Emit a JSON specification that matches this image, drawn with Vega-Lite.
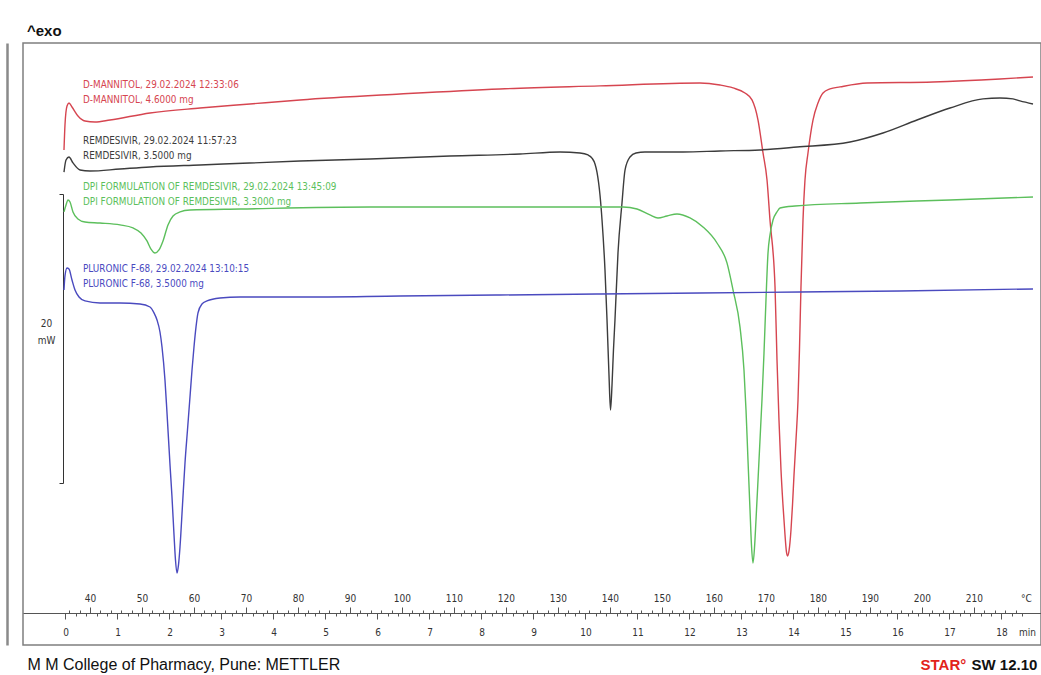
{
  "$schema": "https://vega.github.io/schema/vega-lite/v6.json",
  "width": 1018,
  "height": 602,
  "autosize": {"type": "none"},
  "padding": {"left": 23, "top": 43, "right": 0, "bottom": 30},
  "background": "white",
  "config": {"view": {"stroke": "#7f7f7f", "strokeWidth": 1.5}, "axis": {"grid": false}},
  "title": {"text": "^exo", "anchor": "start", "frame": "group", "orient": "top", "offset": 12, "dx": 4, "dy": 15, "baseline": "middle", "font": "Liberation Sans, Arial, sans-serif", "fontSize": 15, "fontWeight": "bold", "color": "#111111"},
  "datasets": {
    "curves": [
      {"sample": "D-MANNITOL", "T": 35.01, "mW": 34.26},
      {"sample": "D-MANNITOL", "T": 35.20, "mW": 35.99},
      {"sample": "D-MANNITOL", "T": 35.59, "mW": 37.30},
      {"sample": "D-MANNITOL", "T": 35.97, "mW": 37.51},
      {"sample": "D-MANNITOL", "T": 36.55, "mW": 37.23},
      {"sample": "D-MANNITOL", "T": 37.70, "mW": 36.61},
      {"sample": "D-MANNITOL", "T": 39.05, "mW": 36.26},
      {"sample": "D-MANNITOL", "T": 40.97, "mW": 36.19},
      {"sample": "D-MANNITOL", "T": 43.86, "mW": 36.33},
      {"sample": "D-MANNITOL", "T": 51.55, "mW": 36.82},
      {"sample": "D-MANNITOL", "T": 61.17, "mW": 37.16},
      {"sample": "D-MANNITOL", "T": 70.78, "mW": 37.44},
      {"sample": "D-MANNITOL", "T": 80.40, "mW": 37.72},
      {"sample": "D-MANNITOL", "T": 99.63, "mW": 38.13},
      {"sample": "D-MANNITOL", "T": 118.86, "mW": 38.48},
      {"sample": "D-MANNITOL", "T": 138.09, "mW": 38.69},
      {"sample": "D-MANNITOL", "T": 157.32, "mW": 38.89},
      {"sample": "D-MANNITOL", "T": 161.17, "mW": 38.75},
      {"sample": "D-MANNITOL", "T": 163.67, "mW": 38.55},
      {"sample": "D-MANNITOL", "T": 165.97, "mW": 38.20},
      {"sample": "D-MANNITOL", "T": 167.32, "mW": 37.72},
      {"sample": "D-MANNITOL", "T": 168.48, "mW": 36.33},
      {"sample": "D-MANNITOL", "T": 169.44, "mW": 34.05},
      {"sample": "D-MANNITOL", "T": 170.21, "mW": 32.18},
      {"sample": "D-MANNITOL", "T": 170.78, "mW": 29.41},
      {"sample": "D-MANNITOL", "T": 171.75, "mW": 24.78},
      {"sample": "D-MANNITOL", "T": 172.13, "mW": 19.72},
      {"sample": "D-MANNITOL", "T": 172.51, "mW": 15.57},
      {"sample": "D-MANNITOL", "T": 172.90, "mW": 12.11},
      {"sample": "D-MANNITOL", "T": 173.28, "mW": 9.69},
      {"sample": "D-MANNITOL", "T": 173.67, "mW": 7.61},
      {"sample": "D-MANNITOL", "T": 173.95, "mW": 6.44},
      {"sample": "D-MANNITOL", "T": 174.15, "mW": 6.16},
      {"sample": "D-MANNITOL", "T": 174.44, "mW": 6.51},
      {"sample": "D-MANNITOL", "T": 174.82, "mW": 7.96},
      {"sample": "D-MANNITOL", "T": 175.11, "mW": 9.69},
      {"sample": "D-MANNITOL", "T": 175.40, "mW": 11.76},
      {"sample": "D-MANNITOL", "T": 175.78, "mW": 14.19},
      {"sample": "D-MANNITOL", "T": 176.17, "mW": 16.96},
      {"sample": "D-MANNITOL", "T": 176.45, "mW": 20.42},
      {"sample": "D-MANNITOL", "T": 176.74, "mW": 24.78},
      {"sample": "D-MANNITOL", "T": 177.13, "mW": 29.41},
      {"sample": "D-MANNITOL", "T": 177.51, "mW": 32.18},
      {"sample": "D-MANNITOL", "T": 178.09, "mW": 34.05},
      {"sample": "D-MANNITOL", "T": 179.05, "mW": 36.33},
      {"sample": "D-MANNITOL", "T": 180.01, "mW": 37.51},
      {"sample": "D-MANNITOL", "T": 180.98, "mW": 38.20},
      {"sample": "D-MANNITOL", "T": 182.32, "mW": 38.48},
      {"sample": "D-MANNITOL", "T": 184.25, "mW": 38.62},
      {"sample": "D-MANNITOL", "T": 189.44, "mW": 38.89},
      {"sample": "D-MANNITOL", "T": 202.13, "mW": 38.96},
      {"sample": "D-MANNITOL", "T": 215.01, "mW": 39.17},
      {"sample": "D-MANNITOL", "T": 221.36, "mW": 39.31},

      {"sample": "REMDESIVIR", "T": 35.01, "mW": 32.73},
      {"sample": "REMDESIVIR", "T": 35.40, "mW": 33.56},
      {"sample": "REMDESIVIR", "T": 35.97, "mW": 33.77},
      {"sample": "REMDESIVIR", "T": 36.74, "mW": 33.36},
      {"sample": "REMDESIVIR", "T": 38.09, "mW": 32.87},
      {"sample": "REMDESIVIR", "T": 40.01, "mW": 32.80},
      {"sample": "REMDESIVIR", "T": 45.78, "mW": 32.94},
      {"sample": "REMDESIVIR", "T": 51.55, "mW": 33.08},
      {"sample": "REMDESIVIR", "T": 61.17, "mW": 33.22},
      {"sample": "REMDESIVIR", "T": 80.40, "mW": 33.49},
      {"sample": "REMDESIVIR", "T": 93.86, "mW": 33.63},
      {"sample": "REMDESIVIR", "T": 109.24, "mW": 33.84},
      {"sample": "REMDESIVIR", "T": 122.71, "mW": 33.98},
      {"sample": "REMDESIVIR", "T": 130.40, "mW": 34.12},
      {"sample": "REMDESIVIR", "T": 134.24, "mW": 34.05},
      {"sample": "REMDESIVIR", "T": 135.78, "mW": 33.91},
      {"sample": "REMDESIVIR", "T": 136.55, "mW": 33.70},
      {"sample": "REMDESIVIR", "T": 137.13, "mW": 33.29},
      {"sample": "REMDESIVIR", "T": 137.51, "mW": 32.73},
      {"sample": "REMDESIVIR", "T": 138.09, "mW": 31.14},
      {"sample": "REMDESIVIR", "T": 138.48, "mW": 29.41},
      {"sample": "REMDESIVIR", "T": 139.05, "mW": 25.95},
      {"sample": "REMDESIVIR", "T": 139.44, "mW": 22.49},
      {"sample": "REMDESIVIR", "T": 139.82, "mW": 18.69},
      {"sample": "REMDESIVIR", "T": 140.11, "mW": 16.26},
      {"sample": "REMDESIVIR", "T": 140.40, "mW": 17.99},
      {"sample": "REMDESIVIR", "T": 140.68, "mW": 20.42},
      {"sample": "REMDESIVIR", "T": 140.97, "mW": 22.49},
      {"sample": "REMDESIVIR", "T": 141.55, "mW": 27.13},
      {"sample": "REMDESIVIR", "T": 142.32, "mW": 30.59},
      {"sample": "REMDESIVIR", "T": 142.90, "mW": 32.87},
      {"sample": "REMDESIVIR", "T": 143.86, "mW": 33.77},
      {"sample": "REMDESIVIR", "T": 145.01, "mW": 34.05},
      {"sample": "REMDESIVIR", "T": 146.74, "mW": 34.12},
      {"sample": "REMDESIVIR", "T": 154.05, "mW": 34.12},
      {"sample": "REMDESIVIR", "T": 161.17, "mW": 34.19},
      {"sample": "REMDESIVIR", "T": 168.86, "mW": 34.26},
      {"sample": "REMDESIVIR", "T": 175.98, "mW": 34.46},
      {"sample": "REMDESIVIR", "T": 186.17, "mW": 34.81},
      {"sample": "REMDESIVIR", "T": 192.51, "mW": 35.43},
      {"sample": "REMDESIVIR", "T": 199.05, "mW": 36.33},
      {"sample": "REMDESIVIR", "T": 205.40, "mW": 37.16},
      {"sample": "REMDESIVIR", "T": 211.75, "mW": 37.79},
      {"sample": "REMDESIVIR", "T": 215.01, "mW": 37.85},
      {"sample": "REMDESIVIR", "T": 217.51, "mW": 37.79},
      {"sample": "REMDESIVIR", "T": 218.86, "mW": 37.65},
      {"sample": "REMDESIVIR", "T": 221.36, "mW": 37.44},

      {"sample": "DPI FORMULATION OF REMDESIVIR", "T": 35.01, "mW": 29.97},
      {"sample": "DPI FORMULATION OF REMDESIVIR", "T": 35.40, "mW": 30.45},
      {"sample": "DPI FORMULATION OF REMDESIVIR", "T": 35.78, "mW": 30.80},
      {"sample": "DPI FORMULATION OF REMDESIVIR", "T": 36.17, "mW": 30.66},
      {"sample": "DPI FORMULATION OF REMDESIVIR", "T": 36.74, "mW": 29.97},
      {"sample": "DPI FORMULATION OF REMDESIVIR", "T": 37.70, "mW": 29.48},
      {"sample": "DPI FORMULATION OF REMDESIVIR", "T": 39.05, "mW": 29.27},
      {"sample": "DPI FORMULATION OF REMDESIVIR", "T": 41.93, "mW": 29.20},
      {"sample": "DPI FORMULATION OF REMDESIVIR", "T": 45.78, "mW": 29.07},
      {"sample": "DPI FORMULATION OF REMDESIVIR", "T": 48.28, "mW": 28.86},
      {"sample": "DPI FORMULATION OF REMDESIVIR", "T": 49.82, "mW": 28.51},
      {"sample": "DPI FORMULATION OF REMDESIVIR", "T": 50.97, "mW": 27.96},
      {"sample": "DPI FORMULATION OF REMDESIVIR", "T": 51.74, "mW": 27.40},
      {"sample": "DPI FORMULATION OF REMDESIVIR", "T": 52.51, "mW": 27.13},
      {"sample": "DPI FORMULATION OF REMDESIVIR", "T": 53.28, "mW": 27.34},
      {"sample": "DPI FORMULATION OF REMDESIVIR", "T": 54.05, "mW": 27.96},
      {"sample": "DPI FORMULATION OF REMDESIVIR", "T": 55.01, "mW": 29.07},
      {"sample": "DPI FORMULATION OF REMDESIVIR", "T": 55.98, "mW": 29.69},
      {"sample": "DPI FORMULATION OF REMDESIVIR", "T": 57.32, "mW": 29.97},
      {"sample": "DPI FORMULATION OF REMDESIVIR", "T": 59.24, "mW": 30.10},
      {"sample": "DPI FORMULATION OF REMDESIVIR", "T": 68.86, "mW": 30.17},
      {"sample": "DPI FORMULATION OF REMDESIVIR", "T": 93.86, "mW": 30.31},
      {"sample": "DPI FORMULATION OF REMDESIVIR", "T": 118.86, "mW": 30.31},
      {"sample": "DPI FORMULATION OF REMDESIVIR", "T": 130.40, "mW": 30.31},
      {"sample": "DPI FORMULATION OF REMDESIVIR", "T": 142.51, "mW": 30.31},
      {"sample": "DPI FORMULATION OF REMDESIVIR", "T": 145.21, "mW": 30.17},
      {"sample": "DPI FORMULATION OF REMDESIVIR", "T": 147.70, "mW": 29.76},
      {"sample": "DPI FORMULATION OF REMDESIVIR", "T": 149.24, "mW": 29.55},
      {"sample": "DPI FORMULATION OF REMDESIVIR", "T": 150.97, "mW": 29.69},
      {"sample": "DPI FORMULATION OF REMDESIVIR", "T": 152.90, "mW": 29.83},
      {"sample": "DPI FORMULATION OF REMDESIVIR", "T": 155.40, "mW": 29.55},
      {"sample": "DPI FORMULATION OF REMDESIVIR", "T": 157.90, "mW": 28.93},
      {"sample": "DPI FORMULATION OF REMDESIVIR", "T": 160.59, "mW": 27.82},
      {"sample": "DPI FORMULATION OF REMDESIVIR", "T": 162.51, "mW": 26.44},
      {"sample": "DPI FORMULATION OF REMDESIVIR", "T": 163.67, "mW": 24.57},
      {"sample": "DPI FORMULATION OF REMDESIVIR", "T": 165.01, "mW": 22.01},
      {"sample": "DPI FORMULATION OF REMDESIVIR", "T": 165.78, "mW": 19.03},
      {"sample": "DPI FORMULATION OF REMDESIVIR", "T": 166.17, "mW": 16.26},
      {"sample": "DPI FORMULATION OF REMDESIVIR", "T": 166.55, "mW": 12.80},
      {"sample": "DPI FORMULATION OF REMDESIVIR", "T": 166.94, "mW": 9.34},
      {"sample": "DPI FORMULATION OF REMDESIVIR", "T": 167.22, "mW": 6.92},
      {"sample": "DPI FORMULATION OF REMDESIVIR", "T": 167.51, "mW": 5.67},
      {"sample": "DPI FORMULATION OF REMDESIVIR", "T": 167.80, "mW": 6.71},
      {"sample": "DPI FORMULATION OF REMDESIVIR", "T": 168.09, "mW": 8.65},
      {"sample": "DPI FORMULATION OF REMDESIVIR", "T": 168.48, "mW": 11.42},
      {"sample": "DPI FORMULATION OF REMDESIVIR", "T": 168.86, "mW": 14.19},
      {"sample": "DPI FORMULATION OF REMDESIVIR", "T": 169.24, "mW": 16.96},
      {"sample": "DPI FORMULATION OF REMDESIVIR", "T": 169.63, "mW": 20.21},
      {"sample": "DPI FORMULATION OF REMDESIVIR", "T": 170.01, "mW": 23.88},
      {"sample": "DPI FORMULATION OF REMDESIVIR", "T": 170.40, "mW": 27.13},
      {"sample": "DPI FORMULATION OF REMDESIVIR", "T": 170.78, "mW": 28.37},
      {"sample": "DPI FORMULATION OF REMDESIVIR", "T": 171.36, "mW": 29.41},
      {"sample": "DPI FORMULATION OF REMDESIVIR", "T": 172.13, "mW": 29.97},
      {"sample": "DPI FORMULATION OF REMDESIVIR", "T": 172.71, "mW": 30.24},
      {"sample": "DPI FORMULATION OF REMDESIVIR", "T": 175.59, "mW": 30.38},
      {"sample": "DPI FORMULATION OF REMDESIVIR", "T": 188.09, "mW": 30.59},
      {"sample": "DPI FORMULATION OF REMDESIVIR", "T": 205.40, "mW": 30.80},
      {"sample": "DPI FORMULATION OF REMDESIVIR", "T": 221.36, "mW": 31.00},

      {"sample": "PLURONIC F-68", "T": 35.01, "mW": 24.57},
      {"sample": "PLURONIC F-68", "T": 35.20, "mW": 25.54},
      {"sample": "PLURONIC F-68", "T": 35.59, "mW": 26.09},
      {"sample": "PLURONIC F-68", "T": 35.97, "mW": 26.02},
      {"sample": "PLURONIC F-68", "T": 36.55, "mW": 25.26},
      {"sample": "PLURONIC F-68", "T": 37.13, "mW": 24.57},
      {"sample": "PLURONIC F-68", "T": 37.90, "mW": 24.08},
      {"sample": "PLURONIC F-68", "T": 39.05, "mW": 23.81},
      {"sample": "PLURONIC F-68", "T": 41.93, "mW": 23.67},
      {"sample": "PLURONIC F-68", "T": 45.78, "mW": 23.67},
      {"sample": "PLURONIC F-68", "T": 49.63, "mW": 23.60},
      {"sample": "PLURONIC F-68", "T": 51.55, "mW": 23.39},
      {"sample": "PLURONIC F-68", "T": 52.32, "mW": 22.98},
      {"sample": "PLURONIC F-68", "T": 52.90, "mW": 22.49},
      {"sample": "PLURONIC F-68", "T": 53.47, "mW": 21.66},
      {"sample": "PLURONIC F-68", "T": 53.86, "mW": 20.62},
      {"sample": "PLURONIC F-68", "T": 54.43, "mW": 18.34},
      {"sample": "PLURONIC F-68", "T": 54.82, "mW": 16.06},
      {"sample": "PLURONIC F-68", "T": 55.40, "mW": 12.46},
      {"sample": "PLURONIC F-68", "T": 55.78, "mW": 10.24},
      {"sample": "PLURONIC F-68", "T": 56.17, "mW": 7.61},
      {"sample": "PLURONIC F-68", "T": 56.45, "mW": 5.88},
      {"sample": "PLURONIC F-68", "T": 56.74, "mW": 4.98},
      {"sample": "PLURONIC F-68", "T": 57.03, "mW": 5.54},
      {"sample": "PLURONIC F-68", "T": 57.32, "mW": 6.78},
      {"sample": "PLURONIC F-68", "T": 57.80, "mW": 9.69},
      {"sample": "PLURONIC F-68", "T": 58.28, "mW": 12.60},
      {"sample": "PLURONIC F-68", "T": 58.76, "mW": 14.88},
      {"sample": "PLURONIC F-68", "T": 59.24, "mW": 17.16},
      {"sample": "PLURONIC F-68", "T": 59.63, "mW": 19.03},
      {"sample": "PLURONIC F-68", "T": 60.01, "mW": 20.62},
      {"sample": "PLURONIC F-68", "T": 60.40, "mW": 22.01},
      {"sample": "PLURONIC F-68", "T": 60.78, "mW": 22.98},
      {"sample": "PLURONIC F-68", "T": 61.55, "mW": 23.60},
      {"sample": "PLURONIC F-68", "T": 62.51, "mW": 23.81},
      {"sample": "PLURONIC F-68", "T": 65.01, "mW": 24.01},
      {"sample": "PLURONIC F-68", "T": 68.86, "mW": 24.08},
      {"sample": "PLURONIC F-68", "T": 80.40, "mW": 24.08},
      {"sample": "PLURONIC F-68", "T": 99.63, "mW": 24.15},
      {"sample": "PLURONIC F-68", "T": 118.86, "mW": 24.22},
      {"sample": "PLURONIC F-68", "T": 138.09, "mW": 24.29},
      {"sample": "PLURONIC F-68", "T": 157.32, "mW": 24.36},
      {"sample": "PLURONIC F-68", "T": 176.55, "mW": 24.43},
      {"sample": "PLURONIC F-68", "T": 195.78, "mW": 24.50},
      {"sample": "PLURONIC F-68", "T": 221.36, "mW": 24.64}
    ],
    "labels": [
      {"sample": "D-MANNITOL", "lines": ["D-MANNITOL, 29.02.2024 12:33:06", "D-MANNITOL, 4.6000 mg"], "T": 38.67, "mW": 38.75},
      {"sample": "REMDESIVIR", "lines": ["REMDESIVIR, 29.02.2024 11:57:23", "REMDESIVIR, 3.5000 mg"], "T": 38.67, "mW": 34.88},
      {"sample": "DPI FORMULATION OF REMDESIVIR", "lines": ["DPI FORMULATION OF REMDESIVIR, 29.02.2024 13:45:09", "DPI FORMULATION OF REMDESIVIR, 3.3000 mg"], "T": 38.67, "mW": 31.70},
      {"sample": "PLURONIC F-68", "lines": ["PLURONIC F-68, 29.02.2024 13:10:15", "PLURONIC F-68, 3.5000 mg"], "T": 38.67, "mW": 26.02}
    ],
    "scalebar": [{"mW": 0}, {"mW": 20}]
  },
  "layer": [
    {
      "data": {"name": "curves"},
      "mark": {"type": "line", "strokeWidth": 1.4, "interpolate": "monotone"},
      "encoding": {
        "x": {
          "field": "T", "type": "quantitative",
          "scale": {"domain": [27.127, 222.9], "nice": false, "zero": false},
          "axis": {
            "orient": "top", "offset": -570, "zindex": 0,
            "values": [36,38,40,42,44,46,48,50,52,54,56,58,60,62,64,66,68,70,72,74,76,78,80,82,84,86,88,90,92,94,96,98,100,102,104,106,108,110,112,114,116,118,120,122,124,126,128,130,132,134,136,138,140,142,144,146,148,150,152,154,156,158,160,162,164,166,168,170,172,174,176,178,180,182,184,186,188,190,192,194,196,198,200,202,204,206,208,210,212,214,216,218,220],
            "labelExpr": "datum.value == 220 ? '°C' : (datum.value % 10 == 0 ? datum.label : '')",
            "labelFont": "DejaVu Sans Condensed, DejaVu Sans, sans-serif",
            "labelFontSize": 10, "labelColor": "#333333", "labelPadding": 4,
            "labelFlush": false, "labelOverlap": false, "labelAngle": 0,
            "tickSize": {"condition": {"test": "datum.value % 10 == 0", "value": 6}, "value": 3},
            "tickOpacity": {"condition": {"test": "datum.value == 220", "value": 0}, "value": 1},
            "tickColor": "#555555", "tickWidth": 1,
            "domain": true, "domainColor": "#555555", "domainWidth": 1, "grid": false,
            "title": "SW 12.10", "titleX": 948, "titleY": 51, "titleAngle": 0,
            "titleAlign": "left", "titleBaseline": "middle",
            "titleFont": "Liberation Sans, Arial, sans-serif",
            "titleFontSize": 15, "titleFontWeight": "bold", "titleColor": "#111111"
          }
        },
        "y": {
          "field": "mW", "type": "quantitative",
          "scale": {"domain": [0, 41.66], "nice": false, "zero": false},
          "axis": {
            "orient": "left", "offset": 16, "zindex": 1,
            "labels": false, "ticks": false, "grid": false,
            "domain": true, "domainColor": "#8a8a8a", "domainWidth": 2.5,
            "title": "STAR°", "titleX": 913, "titleY": 621, "titleAngle": 0,
            "titleAlign": "left", "titleBaseline": "middle",
            "titleFont": "Liberation Sans, Arial, sans-serif",
            "titleFontSize": 15, "titleFontWeight": "bold", "titleColor": "#e2231a"
          }
        },
        "color": {
          "field": "sample", "type": "nominal",
          "scale": {"domain": ["D-MANNITOL", "REMDESIVIR", "DPI FORMULATION OF REMDESIVIR", "PLURONIC F-68"], "range": ["#d64550", "#3c3c3c", "#5cbf5c", "#4a4abf"]},
          "legend": null
        }
      }
    },
    {
      "data": {"name": "labels"},
      "mark": {"type": "text", "align": "left", "baseline": "middle", "font": "DejaVu Sans Condensed, DejaVu Sans, sans-serif", "fontSize": 9.85, "lineHeight": 15},
      "encoding": {
        "x": {
          "field": "T", "type": "quantitative",
          "scale": {"domain": [27.127, 222.9], "nice": false, "zero": false},
          "axis": {
            "orient": "bottom", "offset": -32,
            "values": [35.3,37.3,39.3,41.3,43.3,45.3,47.3,49.3,51.3,53.3,55.3,57.3,59.3,61.3,63.3,65.3,67.3,69.3,71.3,73.3,75.3,77.3,79.3,81.3,83.3,85.3,87.3,89.3,91.3,93.3,95.3,97.3,99.3,101.3,103.3,105.3,107.3,109.3,111.3,113.3,115.3,117.3,119.3,121.3,123.3,125.3,127.3,129.3,131.3,133.3,135.3,137.3,139.3,141.3,143.3,145.3,147.3,149.3,151.3,153.3,155.3,157.3,159.3,161.3,163.3,165.3,167.3,169.3,171.3,173.3,175.3,177.3,179.3,181.3,183.3,185.3,187.3,189.3,191.3,193.3,195.3,197.3,199.3,201.3,203.3,205.3,207.3,209.3,211.3,213.3,215.3,217.3,219.3,220.2],
            "labelExpr": "datum.value > 219.9 ? 'min' : (abs((datum.value - 35.3) / 10 - round((datum.value - 35.3) / 10)) < 0.01 ? '' + round((datum.value - 35.3) / 10) : '')",
            "labelFont": "DejaVu Sans Condensed, DejaVu Sans, sans-serif",
            "labelFontSize": 10, "labelColor": "#333333", "labelPadding": 8,
            "labelFlush": false, "labelOverlap": false, "labelAngle": 0,
            "tickSize": {"condition": {"test": "datum.value > 219.9 || abs((datum.value - 35.3) / 10 - round((datum.value - 35.3) / 10)) < 0.01", "value": 6}, "value": 3},
            "tickOpacity": {"condition": {"test": "datum.value > 219.9", "value": 0}, "value": 1},
            "tickColor": "#555555", "tickWidth": 1,
            "domain": false, "grid": false,
            "title": "M M College of Pharmacy, Pune: METTLER", "titleX": 4, "titleY": 51, "titleAngle": 0,
            "titleAlign": "left", "titleBaseline": "middle",
            "titleFont": "Liberation Sans, Arial, sans-serif",
            "titleFontSize": 16, "titleFontWeight": "normal", "titleColor": "#111111"
          }
        },
        "y": {
          "field": "mW", "type": "quantitative",
          "scale": {"domain": [0, 41.66], "nice": false, "zero": false},
          "axis": null
        },
        "text": {"field": "lines", "type": "nominal"},
        "color": {
          "field": "sample", "type": "nominal",
          "scale": {"domain": ["D-MANNITOL", "REMDESIVIR", "DPI FORMULATION OF REMDESIVIR", "PLURONIC F-68"], "range": ["#d64550", "#3c3c3c", "#5cbf5c", "#4a4abf"]},
          "legend": null
        }
      }
    },
    {
      "data": {"name": "scalebar"},
      "mark": {"type": "rule", "opacity": 0},
      "encoding": {
        "y": {
          "field": "mW", "type": "quantitative",
          "scale": {"domain": [0, 20], "range": [440, 151], "nice": false, "zero": false},
          "axis": {
            "orient": "left", "offset": -40, "values": [0, 20],
            "labels": false, "ticks": true, "tickSize": 4, "tickColor": "#333333",
            "domain": true, "domainColor": "#333333", "domainWidth": 1, "grid": false,
            "title": ["20", "mW"], "titleX": -17, "titleY": 280, "titleAngle": 0,
            "titleAlign": "center", "titleBaseline": "middle", "titleLineHeight": 17,
            "titleFont": "DejaVu Sans Condensed, DejaVu Sans, sans-serif",
            "titleFontSize": 10, "titleFontWeight": "normal", "titleColor": "#333333"
          }
        }
      }
    }
  ],
  "resolve": {"scale": {"y": "independent"}, "axis": {"x": "independent", "y": "independent"}}
}
